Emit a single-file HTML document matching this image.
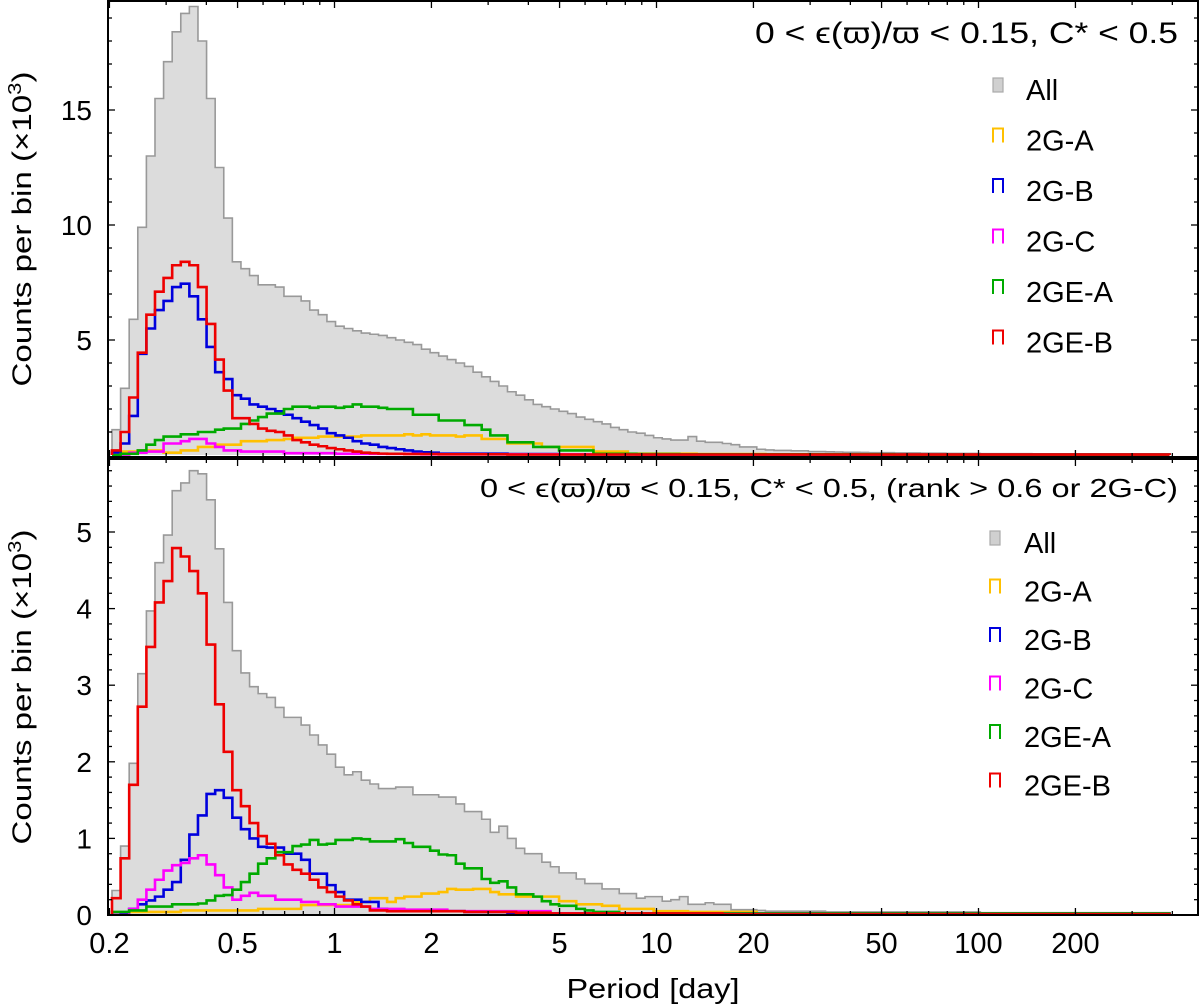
<!DOCTYPE html>
<html><head><meta charset="utf-8"><style>
html,body{margin:0;padding:0;background:#fff;}
svg{display:block;font-family:"Liberation Sans",sans-serif;}
</style></head><body>
<svg id="chart" width="1200" height="1008" viewBox="0 0 1200 1008" xmlns="http://www.w3.org/2000/svg"></svg>
<script>
// ---- data (counts per bin, x10^3), bins log-uniform ----
const binStartLog = -0.691;
const binWidthLog = 0.0267;
const nBins = 123;
const seriesNames = ["All","2G-A","2G-B","2G-C","2GE-A","2GE-B"];
const seriesColors = ["#999999","#ffc000","#0000dd","#ff00ff","#00aa00","#ee0000"];
const xTickValues = [0.2,0.5,1,2,5,10,20,50,100,200];
const xTickLabels = ["0.2","0.5","1","2","5","10","20","50","100","200"];
const topYTicks = [5,10,15];
const botYTicks = [0,1,2,3,4,5];

function pad(arr, v){ const out=arr.slice(); while(out.length<nBins) out.push(v); return out; }

const topAll = [1.1,2.9,5.9,9.9,13.0,15.5,17.1,18.4,19.2,19.5,18.0,15.5,12.5,10.3,8.4,8.1,7.8,7.4,7.4,7.3,6.9,6.9,6.7,6.3,6.1,5.8,5.6,5.5,5.4,5.3,5.25,5.2,5.1,5.0,4.9,4.8,4.6,4.45,4.3,4.15,4.0,3.85,3.6,3.4,3.2,3.0,2.75,2.6,2.4,2.2,2.1,2.0,1.9,1.8,1.65,1.55,1.45,1.35,1.2,1.1,1.0,0.95,0.85,0.75,0.7,0.65,0.65,0.8,0.6,0.55,0.55,0.5,0.45,0.35,0.35,0.25,0.22,0.2,0.2,0.18,0.18,0.15,0.15,0.14,0.13,0.12,0.12,0.11,0.1,0.1,0.1,0.09,0.09,0.09,0.08,0.08,0.08,0.07,0.07,0.07,0.07,0.06,0.06,0.06,0.06,0.06,0.06,0.05,0.05,0.05,0.05,0.05,0.05,0.05,0.05,0.04,0.04,0.04,0.04,0.04,0.04,0.04,0.04];
const top2GA = pad([0.1,0.15,0.15,0.2,0.2,0.2,0.1,0.1,0.2,0.2,0.35,0.35,0.45,0.45,0.45,0.6,0.6,0.6,0.65,0.65,0.7,0.75,0.75,0.75,0.8,0.8,0.8,0.8,0.8,0.85,0.85,0.85,0.85,0.85,0.9,0.85,0.9,0.85,0.85,0.85,0.8,0.85,0.85,0.7,0.7,0.7,0.5,0.5,0.5,0.5,0.35,0.35,0.35,0.35,0.35,0.35,0.15,0.15,0.15,0.15,0.06,0.06,0.06,0.06,0.06,0.06,0.06,0.06,0.04,0.04,0.04,0.04,0.04,0.04,0.04,0.04,0.03,0.03,0.03,0.03,0.03,0.03,0.03,0.03,0.03,0.03,0.03,0.03,0.03,0.03], 0.02);
const top2GB = pad([0.1,0.5,1.7,4.4,5.5,6.3,6.7,7.3,7.45,6.9,5.9,4.7,3.6,3.3,2.6,2.45,2.2,2.1,2.0,1.9,1.75,1.6,1.45,1.3,1.15,0.95,0.85,0.75,0.6,0.5,0.45,0.35,0.3,0.25,0.2,0.15,0.12,0.1,0.06,0.06,0.06,0.06,0.06,0.06,0.06,0.06,0.04,0.04,0.04,0.04,0.04,0.04,0.03,0.03,0.03,0.03,0.03,0.03,0.03,0.03,0.03,0.03], 0.02);
const top2GC = pad([0,0.02,0.1,0.1,0.15,0.15,0.5,0.5,0.6,0.7,0.7,0.5,0.35,0.2,0.2,0.15,0.15,0.15,0.15,0.15,0.08,0.08,0.08,0.08,0.08,0.08,0.05,0.05,0.05,0.05,0.05,0.05,0.05,0.05,0.05,0.05,0.03,0.03,0.03,0.03,0.03,0.03,0.03,0.03,0.03,0.03,0.03,0.03,0.03,0.03,0.03,0.03,0.03,0.03,0.03,0.03,0.03,0.03,0.03,0.03,0.03], 0.02);
const top2GEA = pad([0,0.05,0.05,0.2,0.45,0.65,0.8,0.8,0.9,0.9,1.0,1.0,1.1,1.15,1.15,1.35,1.5,1.65,1.8,1.8,2.0,2.1,2.1,2.05,2.1,2.1,2.05,2.1,2.2,2.1,2.1,2.05,2.0,2.0,2.0,1.75,1.75,1.75,1.5,1.5,1.5,1.3,1.3,1.1,0.85,0.85,0.55,0.55,0.55,0.35,0.35,0.35,0.2,0.2,0.2,0.2,0.05,0.05,0.05,0.05,0.05,0.04,0.04,0.04,0.04,0.04,0.03,0.03,0.03,0.03,0.03,0.03,0.03,0.03,0.03,0.03,0.03,0.03,0.03,0.03,0.03,0.03,0.03,0.03,0.03,0.03,0.03,0.03,0.03,0.03,0.03], 0.02);
const top2GEB = pad([0.2,1.0,2.5,4.45,6.1,7.1,7.7,8.25,8.4,8.25,7.3,5.7,4.15,2.8,1.6,1.6,1.35,1.15,1.05,1.0,0.85,0.65,0.55,0.45,0.38,0.3,0.25,0.2,0.15,0.1,0.08,0.06,0.05,0.05,0.04,0.04,0.04,0.04,0.03,0.03,0.03,0.03,0.03,0.03,0.03,0.03], 0.02);

const botAll = pad([0.32,0.9,1.98,3.15,3.97,4.6,4.96,5.54,5.64,5.8,5.76,5.42,4.78,4.08,3.45,3.16,2.98,2.89,2.84,2.71,2.58,2.58,2.48,2.35,2.22,2.1,1.93,1.83,1.87,1.76,1.71,1.65,1.65,1.67,1.67,1.57,1.57,1.57,1.54,1.54,1.45,1.35,1.35,1.25,1.08,1.16,1.0,0.87,0.8,0.8,0.69,0.63,0.55,0.55,0.47,0.41,0.41,0.34,0.34,0.28,0.28,0.22,0.24,0.24,0.18,0.2,0.24,0.14,0.14,0.16,0.14,0.14,0.07,0.07,0.07,0.06,0.05,0.05,0.05,0.05,0.05,0.05,0.05,0.04,0.04,0.04,0.04,0.04,0.04,0.04,0.04,0.04,0.04,0.04,0.04,0.04,0.04,0.04,0.04,0.04,0.04], 0.03);
const bot2GA = pad([0,0,0.04,0.04,0.04,0.04,0.04,0.04,0.06,0.06,0.06,0.06,0.06,0.06,0.06,0.06,0.06,0.08,0.08,0.08,0.08,0.08,0.13,0.13,0.13,0.13,0.13,0.13,0.17,0.17,0.22,0.22,0.17,0.22,0.24,0.24,0.28,0.28,0.3,0.34,0.33,0.33,0.34,0.34,0.3,0.27,0.27,0.24,0.24,0.24,0.24,0.24,0.18,0.18,0.14,0.14,0.14,0.12,0.12,0.08,0.08,0.08,0.08,0.05,0.05,0.05,0.05,0.04,0.04,0.04,0.04,0.04,0.04,0.04,0.04], 0.02);
const bot2GB = pad([0,0.02,0.08,0.14,0.19,0.24,0.33,0.43,0.72,1.05,1.3,1.58,1.63,1.53,1.27,1.12,1.0,0.89,0.88,0.88,0.8,0.8,0.72,0.54,0.54,0.39,0.3,0.2,0.2,0.17,0.17,0.08,0.07,0.06,0.05,0.05,0.05,0.05,0.05,0.05,0.05,0.04,0.04,0.04,0.04,0.04,0.03,0.03,0.03,0.03], 0.02);
const bot2GC = pad([0,0,0.08,0.2,0.33,0.46,0.58,0.65,0.68,0.74,0.78,0.66,0.52,0.36,0.2,0.25,0.29,0.25,0.25,0.2,0.2,0.2,0.17,0.17,0.14,0.14,0.11,0.11,0.11,0.11,0.08,0.08,0.08,0.08,0.07,0.07,0.07,0.07,0.07,0.05,0.05,0.05,0.05,0.05,0.05,0.05,0.05,0.05,0.05,0.05,0.05], 0.02);
const bot2GEA = pad([0.04,0.04,0.06,0.06,0.11,0.11,0.11,0.14,0.14,0.14,0.15,0.19,0.25,0.26,0.33,0.43,0.54,0.67,0.74,0.82,0.82,0.9,0.92,0.98,0.92,0.93,0.98,0.98,1.0,0.99,0.96,0.96,0.96,0.99,0.94,0.89,0.89,0.84,0.79,0.78,0.67,0.61,0.61,0.47,0.42,0.44,0.36,0.27,0.27,0.24,0.18,0.14,0.12,0.12,0.08,0.06,0.04,0.04,0.04], 0.02);
const bot2GEB = pad([0.22,0.74,1.7,2.72,3.5,4.08,4.36,4.79,4.68,4.49,4.2,3.53,2.75,2.13,1.63,1.42,1.2,1.03,0.93,0.78,0.66,0.59,0.54,0.46,0.36,0.3,0.24,0.19,0.14,0.11,0.06,0.06,0.05,0.05,0.05,0.05,0.05,0.05,0.05,0.05,0.05,0.04,0.04,0.04,0.04,0.04,0.04,0.03,0.03,0.03,0.03,0.02,0.02,0.02,0.02,0.02,0.02,0.02,0.02,0.02,0.02,0.02,0.02,0.02,0.02,0.02,0.02,0.02,0.02,0.02,0.02], 0.01);

const NS = "http://www.w3.org/2000/svg";
const svg = document.getElementById("chart");
function mk(tag, attrs, parent){ const e=document.createElementNS(NS,tag); for(const k in attrs) e.setAttribute(k,attrs[k]); (parent||svg).appendChild(e); return e; }

const X0 = 108, X1 = 1198;
function xScale(p){ return 334.5 + 322*Math.log10(p); }
function xLog(l){ return 334.5 + 322*l; }

const panels = [
  {name:"top", top:1, bottom:457, zeroY:455, ppu:23.0, series:[topAll,top2GA,top2GB,top2GC,top2GEA,top2GEB], yticks:topYTicks, minorStep:1, minorMax:19,
   title:"0 < ϵ(ϖ)/ϖ < 0.15,  C* < 0.5", titleY:43, titleSize:30, titleLen:423, legY:100, legStep:50.5, legMarkX:993, legTextX:1026},
  {name:"bottom", top:459, bottom:915, zeroY:915, ppu:76.6, series:[botAll,bot2GA,bot2GB,bot2GC,bot2GEA,bot2GEB], yticks:botYTicks, minorStep:0.2, minorMax:5.8,
   title:"0 < ϵ(ϖ)/ϖ < 0.15,  C* < 0.5, (rank > 0.6 or 2G-C)", titleY:497, titleSize:26, titleLen:698, legY:553, legStep:48.5, legMarkX:990, legTextX:1024}
];

panels.forEach((P, pi) => {
  const g = mk("g", {});
  
  
  const clipId = "clip"+pi;
  const cp = mk("clipPath",{id:clipId}, g);
  mk("rect",{x:X0,y:P.top,width:X1-X0,height:P.bottom-P.top},cp);
  const plot = mk("g",{"clip-path":"url(#"+clipId+")"}, g);
  
  
  function yScale(v){ return P.zeroY - v*P.ppu; }
  P.series.forEach((vals, si) => {
    let d = "M"+xLog(binStartLog).toFixed(2)+","+P.zeroY;
    for(let i=0;i<vals.length;i++){
      d += " V"+yScale(vals[i]).toFixed(2)+" H"+xLog(binStartLog+(i+1)*binWidthLog).toFixed(2);
    }
    d += " V"+P.zeroY;
    const isAll = si===0;
    const path = mk("path",{d:d, fill:isAll?"#dcdcdc":"none", stroke:seriesColors[si], "stroke-width":isAll?1.6:2.6, "stroke-linejoin":"miter"}, plot);
    
    
  });
  const frame = mk("rect",{x:X0,y:P.top,width:X1-X0,height:P.bottom-P.top,fill:"none",stroke:"#000","stroke-width":2}, g);
  
  
  for(let dec=-1; dec<=2; dec++){
    for(let m=1;m<=9;m++){
      const p = m*Math.pow(10,dec);
      const x = xScale(p);
      if(x<X0+1||x>X1-1) continue;
      const major = (m===1||m===2||m===5);
      const L = major?7:4;
      mk("line",{x1:x,x2:x,y1:P.bottom,y2:P.bottom-L,stroke:"#000","stroke-width":1.3},g);
      mk("line",{x1:x,x2:x,y1:P.top,y2:P.top+L,stroke:"#000","stroke-width":1.3},g);
    }
  }
  for(let k=1; k*P.minorStep<=P.minorMax+1e-6; k++){
    const v = k*P.minorStep;
    const y = yScale(v); if(y<P.top+2) continue;
    const isMaj = P.yticks.some(t=>Math.abs(t-v)<1e-6);
    const L = isMaj?7:4;
    mk("line",{x1:X0,x2:X0+L,y1:y,y2:y,stroke:"#000","stroke-width":1.3},g);
    mk("line",{x1:X1,x2:X1-L,y1:y,y2:y,stroke:"#000","stroke-width":1.3},g);
  }
  P.yticks.forEach(t => {
    const y = yScale(t);
    const tx = mk("text",{x:92,y:y+10,"text-anchor":"end","font-size":28,fill:"#000"},g);
    tx.textContent = String(t);
    
    
  });
  const tt = mk("text",{x:1178,y:P.titleY,"text-anchor":"end","font-size":P.titleSize,fill:"#000",textLength:P.titleLen,lengthAdjust:"spacingAndGlyphs"},g);
  tt.textContent = P.title;
  
  
  seriesNames.forEach((nm, si) => {
    const ly = P.legY + si*P.legStep;
    const le = mk("g",{},g);
    
    
    const mx = P.legMarkX, my = ly-22;
    if(si===0){
      mk("rect",{x:mx,y:my,width:10,height:14,fill:"#d0d0d0",stroke:"#aaa","stroke-width":1.2},le);
    } else {
      mk("path",{d:"M"+mx+","+(my+14)+" V"+my+" H"+(mx+10)+" V"+(my+14),fill:"none",stroke:seriesColors[si],"stroke-width":2},le);
    }
    const lt = mk("text",{x:P.legTextX,y:ly,"font-size":29,fill:"#000"},le);
    lt.textContent = nm;
  });
  const cy = (P.top+P.bottom)/2;
  const yl = mk("text",{x:0,y:0,transform:"translate(31,"+cy+") rotate(-90)","text-anchor":"middle","font-size":27,fill:"#000",textLength:315,lengthAdjust:"spacingAndGlyphs"},g);
  yl.innerHTML = 'Counts per bin (×10<tspan dy="-10" font-size="18">3</tspan><tspan dy="10">)</tspan>';
  
  
});

xTickValues.forEach((v,i) => {
  const t = mk("text",{x:xScale(v),y:953,"text-anchor":"middle","font-size":29,fill:"#000"});
  t.textContent = xTickLabels[i];
  
  
});
const xl = mk("text",{x:653,y:998,"text-anchor":"middle","font-size":28,fill:"#000",textLength:173,lengthAdjust:"spacingAndGlyphs"});
xl.textContent = "Period  [day]";


</script>
</body></html>
